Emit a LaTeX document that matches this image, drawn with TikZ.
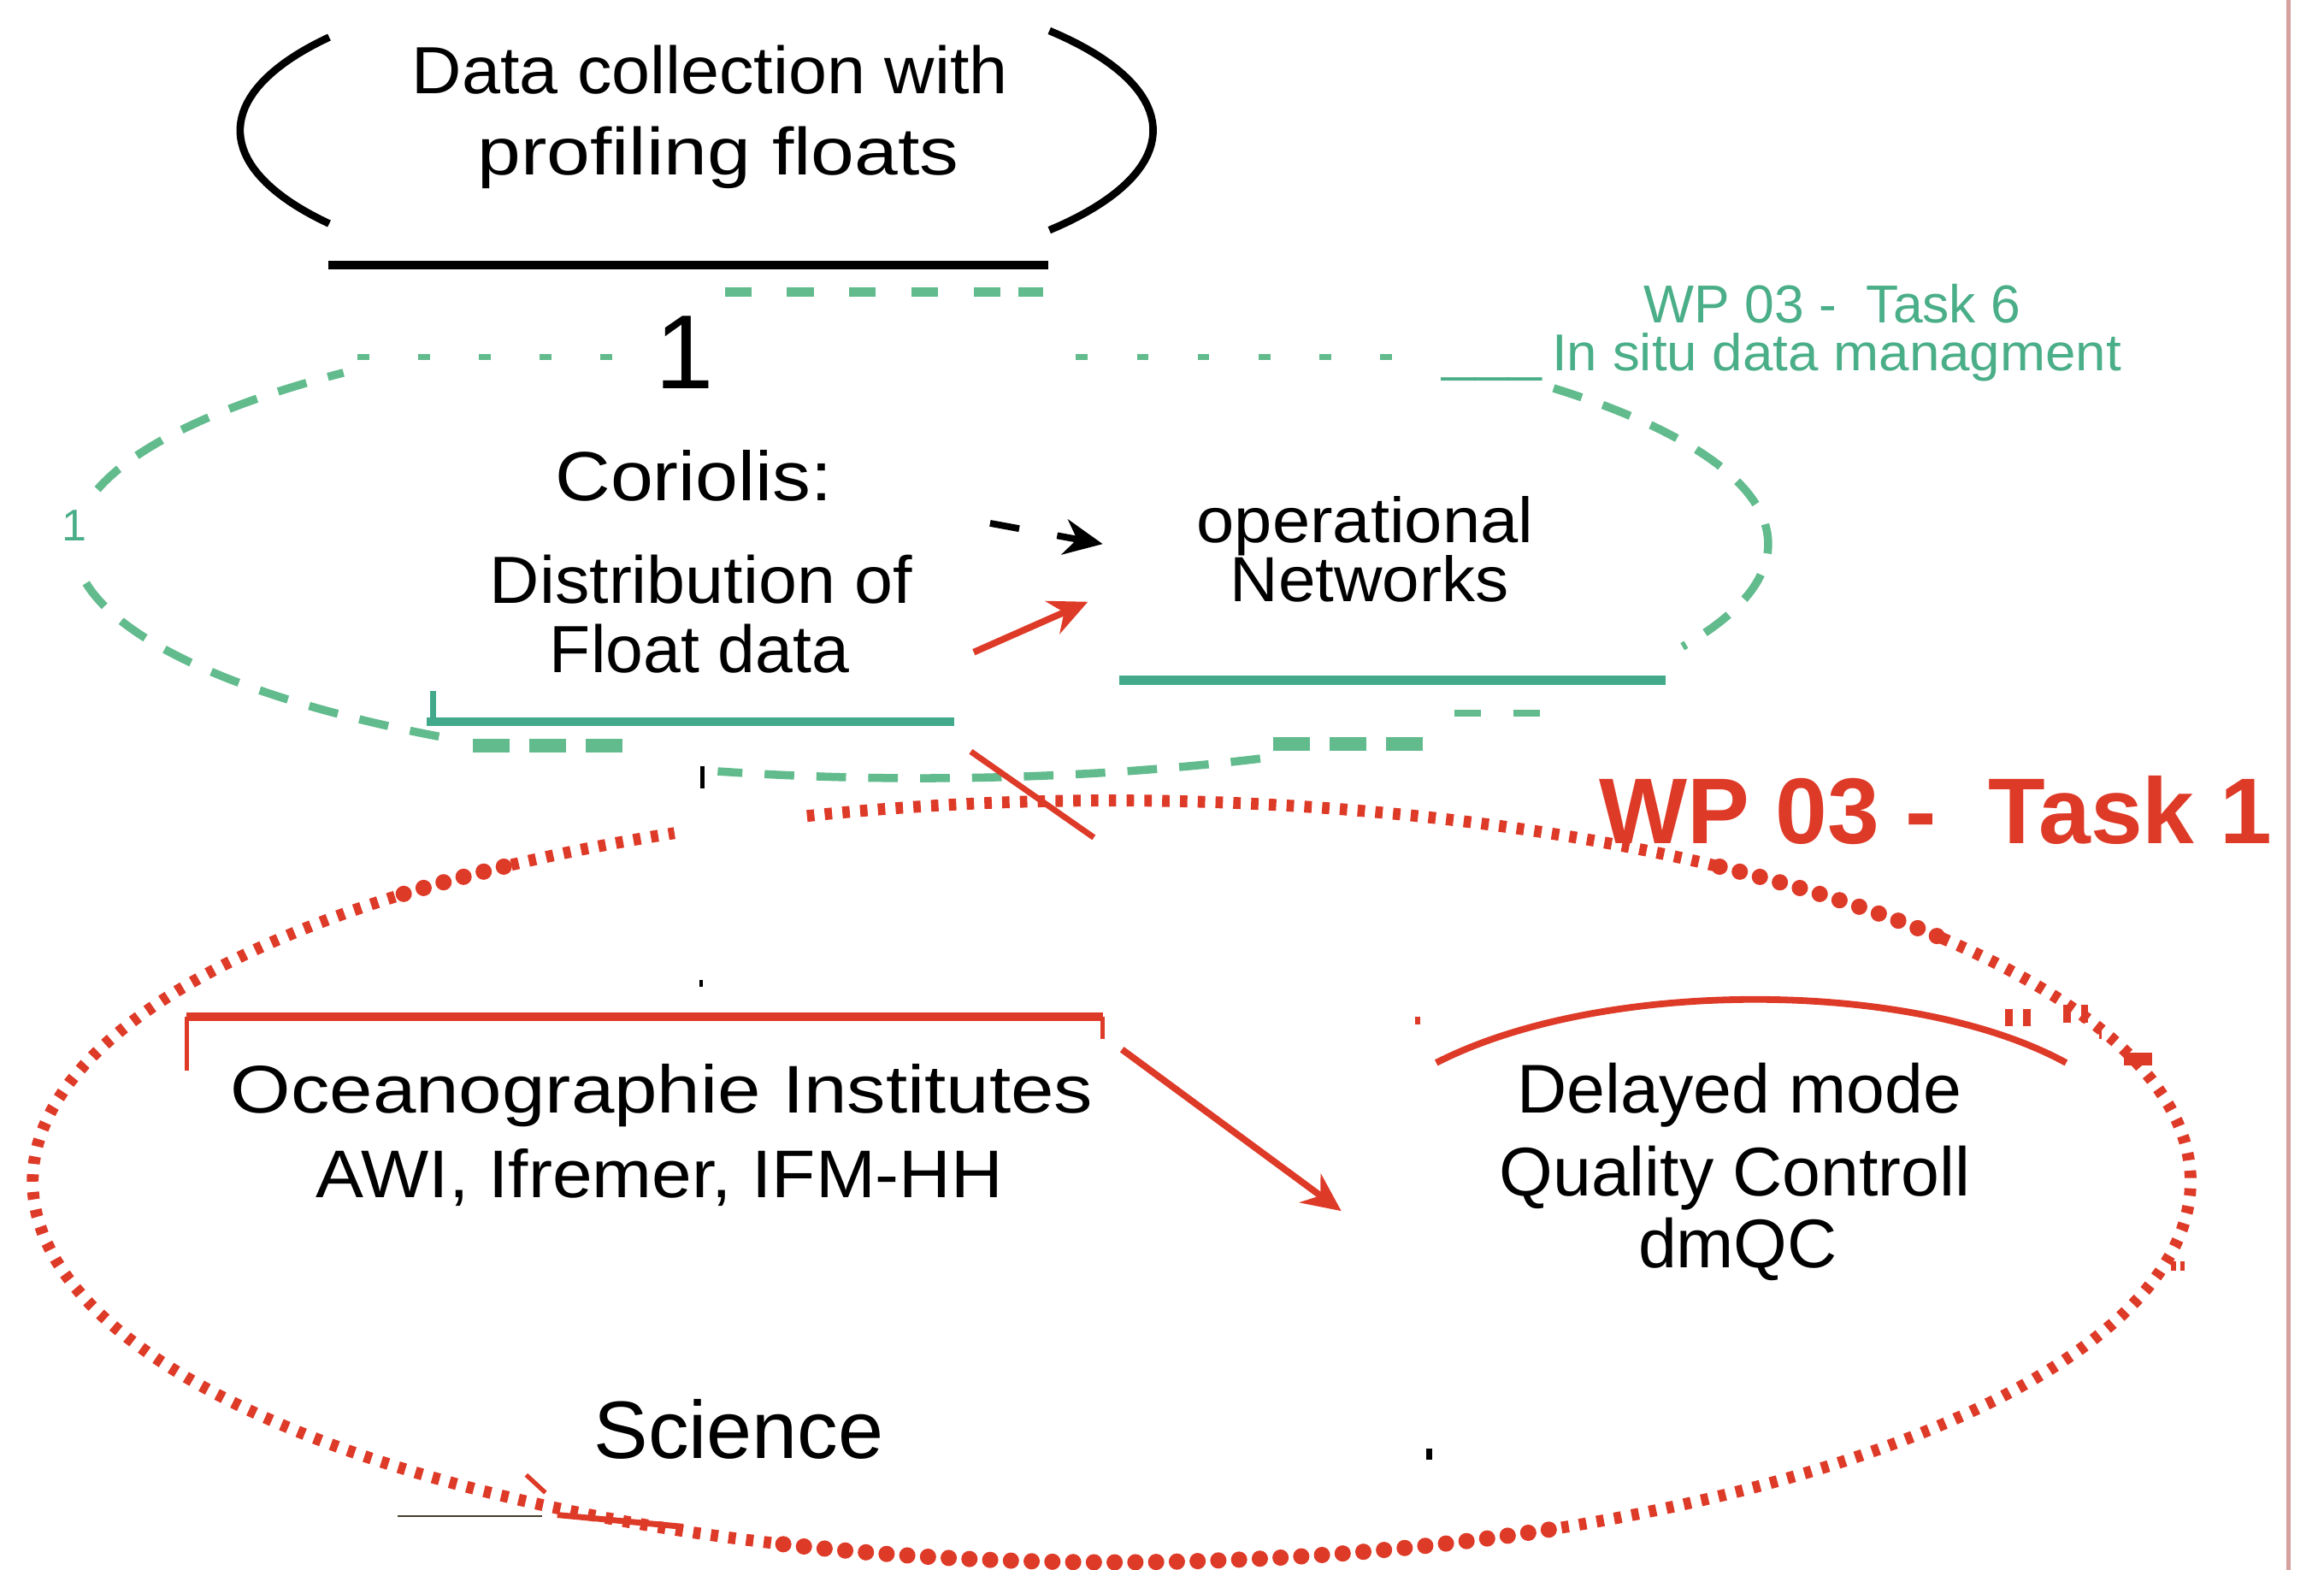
\documentclass[tikz,border=0pt]{standalone}
\usepackage{fontspec}
\setmainfont{Liberation Sans}
\usepackage{graphicx}
\usetikzlibrary{arrows.meta}
\definecolor{grn}{RGB}{98,187,141}
\definecolor{teal2}{RGB}{66,170,139}
\definecolor{txtgrn}{RGB}{74,174,136}
\definecolor{red2}{RGB}{222,58,40}
\definecolor{pinkline}{RGB}{214,160,158}
\newcommand{\sx}[2]{\scalebox{#1}[1]{#2}}
\newcommand{\fs}[1]{\fontsize{#1}{#1}\selectfont}
\begin{document}
\begin{tikzpicture}[x=1pt,y=-1pt,
 txt/.style={inner sep=0pt, anchor=base},
 gdash/.style={draw=grn, line width=5.5pt, dash pattern=on 20pt off 15pt},
 rsq/.style={draw=red2, line width=8pt, dash pattern=on 5pt off 7pt},
 rrnd/.style={draw=red2, line width=11pt, line cap=round, dash pattern=on 0pt off 14pt},
 rarrow/.style={draw=red2, line width=4.5pt, -{Stealth[length=26pt,width=24pt]}},
 tealline/.style={draw=teal2, line width=6pt},
 gdots/.style={draw=grn, line width=4pt, dash pattern=on 8pt off 33pt},
 gthick/.style={draw=grn, line width=9pt, dash pattern=on 25pt off 13pt},
]
\useasboundingbox (0,0) rectangle (1568,1059);
\fill[white] (0,0) rectangle (1568,1059);

% pink right border
\coordinate (pk1) at (1544,0); \coordinate (pk2) at (1544,1059);
\draw[pinkline, line width=3pt] (pk1) -- (pk2);

% black ellipse arcs (top)
\draw[black, line width=5pt] plot[domain=143.6:216.4, samples=40] ({470+308*cos(\x)},{88+106*sin(\x)});
\draw[black, line width=5pt] plot[domain=-39.4:39.4, samples=40] ({470+308*cos(\x)},{88+106*sin(\x)});
\coordinate (bl1) at (221.5,179); \coordinate (bl2) at (707,179);
\draw[black, line width=6pt] (bl1) -- (bl2);

% green thick dashes under black line
\coordinate (gt1) at (489,197); \coordinate (gt2) at (676,197);
\coordinate (gt3) at (687,197); \coordinate (gt4) at (704,197);
\draw[grn, line width=6.5pt, dash pattern=on 18pt off 24pt] (gt1) -- (gt2);
\draw[grn, line width=6.5pt] (gt3) -- (gt4);

% green dashed ellipse
\draw[gdash] plot[domain=124.7:173.5, samples=50] ({621.5+571.5*cos(\x)},{367+158*sin(\x)});
\draw[gdash] plot[domain=193.5:227, samples=40] ({621.5+571.5*cos(\x)},{367+158*sin(\x)});
\draw[gdash] plot[domain=66.4:103.9, samples=40] ({621.5+571.5*cos(\x)},{367+158*sin(\x)});
\draw[gdash] plot[domain=-41.7:26, samples=60] ({621.5+571.5*cos(\x)},{367+158*sin(\x)});
\coordinate (gd1) at (241,241); \coordinate (gd2) at (420,241);
\coordinate (gd3) at (726,241); \coordinate (gd4) at (945,241);
\draw[gdots] (gd1) -- (gd2);
\draw[gdots] (gd3) -- (gd4);
\coordinate (gb1) at (319,503); \coordinate (gb2) at (421,503);
\coordinate (gb3) at (859,502); \coordinate (gb4) at (961,502);
\coordinate (gb5) at (981,481); \coordinate (gb6) at (1039,481);
\draw[gthick] (gb1) -- (gb2);
\draw[gthick] (gb3) -- (gb4);
\draw[grn, line width=4.5pt, dash pattern=on 18pt off 22pt] (gb5) -- (gb6);

% red dotted ellipse
\draw[rsq] plot[domain=253.6:304.3, samples=40] ({750+728*cos(\x)},{797+257*sin(\x)});
\draw[rrnd] plot[domain=304.3:320.3, samples=20] ({750+728*cos(\x)},{797+257*sin(\x)});
\draw[rsq] plot[domain=320.3:426.1, samples=80] ({750+728*cos(\x)},{797+257*sin(\x)});
\draw[rrnd] plot[domain=426.1:468.4, samples=40] ({750+728*cos(\x)},{797+257*sin(\x)});
\draw[rsq] plot[domain=468.4:589, samples=90] ({750+728*cos(\x)},{797+257*sin(\x)});
\draw[rrnd] plot[domain=589:596.2, samples=10] ({750+728*cos(\x)},{797+257*sin(\x)});
\draw[rsq] plot[domain=596.2:606.1, samples=10] ({750+728*cos(\x)},{797+257*sin(\x)});

% teal lines
\coordinate (tl1) at (288,487); \coordinate (tl2) at (644,487);
\coordinate (tv1) at (292,466); \coordinate (tv2) at (292,490);
\draw[tealline] (tl1) -- (tl2);
\draw[teal2, line width=4pt] (tv1) -- (tv2);
\coordinate (tl3) at (755,459); \coordinate (tl4) at (1124,459);
\draw[tealline] (tl3) -- (tl4);

% black small marks
\coordinate (bt1) at (474,517); \coordinate (bt2) at (474,532);
\draw[black, line width=3pt] (bt1) -- (bt2);
\fill[black] (472,661) rectangle (474,666);
\fill[black] (962,977) rectangle (966,985);

% black dashed arrow
\coordinate (ba1) at (668,353); \coordinate (ba2) at (744,367);
\draw[black, line width=4.5pt, dash pattern=on 20pt off 26pt, -{Stealth[length=26pt,width=24pt]}] (ba1) -- (ba2);

% red arrows and lines
\coordinate (ra1) at (657,440); \coordinate (ra2) at (734,406);
\draw[rarrow] (ra1) -- (ra2);
\coordinate (ra3) at (757,708); \coordinate (ra4) at (905,817);
\draw[rarrow] (ra3) -- (ra4);
\coordinate (rl1) at (655,507); \coordinate (rl2) at (738,565);
\draw[red2, line width=4pt] (rl1) -- (rl2);
\coordinate (rc1) at (969,717); \coordinate (rc2) at (1394,717);
\draw[red2, line width=4.5pt] (rc1) .. controls (1080,660) and (1290,660) .. (rc2);
\coordinate (rr1) at (126,722); \coordinate (rr2) at (126,686);
\coordinate (rr3) at (744,686); \coordinate (rr4) at (744,701);
\draw[red2, line width=3pt] (rr1) -- (rr2);
\draw[red2, line width=3pt] (rr3) -- (rr4);
\draw[red2, line width=6pt] (rr2) -- (rr3);
\coordinate (rf1) at (376,1022); \coordinate (rf2) at (461,1030);
\draw[red2, line width=4pt] (rf1) -- (rf2);
\coordinate (rf3) at (355,995); \coordinate (rf4) at (368,1007);
\draw[red2, line width=3pt] (rf3) -- (rf4);
\coordinate (ol1) at (268,1023); \coordinate (ol2) at (366,1023);
\draw[black!70!olive, line width=1pt] (ol1) -- (ol2);
\fill[red2] (1353,681) rectangle (1358,692);
\fill[red2] (1365,681) rectangle (1370,692);
\fill[red2] (1392,678) rectangle (1397,690);
\fill[red2] (1404,678) rectangle (1409,690);
\fill[red2] (1416,695) rectangle (1418,701);
\fill[red2] (1433,710) rectangle (1452,719);
\fill[red2] (955,686) rectangle (958,691);
\fill[red2] (1465,851) rectangle (1468,857);
\fill[red2] (1471,851) rectangle (1474,857);

% texts
\node[txt] (t1a) at (479,63) {\fs{45}\sx{1.037}{Data collection with}};
\node[txt] (t1b) at (484.5,118) {\fs{45}\sx{1.17}{profiling floats}};
\node[txt] (one) at (462,262) {\fs{71}1};
\node[txt, text=txtgrn] (one2) at (50,365) {\fs{30}1};
\node[txt, anchor=base west, text=txtgrn] (wp6) at (1109,218) {\fs{36}WP 03 -\ \ Task 6};
\node[txt, anchor=base west, text=txtgrn] (us) at (973,250) {\fs{35}\sx{1.15}{\_\_\_}};
\node[txt, anchor=base west, text=txtgrn] (insitu) at (1047,250) {\fs{35}\sx{1.05}{In situ data managment}};
\node[txt] (cor) at (468,338) {\fs{47}\sx{1.10}{Coriolis:}};
\node[txt] (dist) at (473,407) {\fs{45}\sx{1.036}{Distribution of}};
\node[txt] (flt) at (472,454) {\fs{45}\sx{1.01}{Float data}};
\node[txt] (oper) at (921,366) {\fs{43}\sx{1.067}{operational}};
\node[txt] (netw) at (924,406) {\fs{43}\sx{1.05}{Networks}};
\node[txt, anchor=base west, text=red2] (wp1) at (1079,569) {\fs{63}\bfseries WP 03 -\ \ Task 1};
\node[txt] (oce) at (446.5,751) {\fs{45.5}\sx{1.15}{Oceanographie Institutes}};
\node[txt] (awi) at (445,808) {\fs{45.5}\sx{1.064}{AWI, Ifremer, IFM-HH}};
\node[txt] (del) at (1173.5,751) {\fs{46.5}Delayed mode};
\node[txt] (qc) at (1170.5,807) {\fs{46.5}Quality Controll};
\node[txt] (dmqc) at (1172.5,855) {\fs{46.5}dmQC};
\node[txt] (sci) at (498.5,984) {\fs{55}Science};
\end{tikzpicture}
\end{document}
